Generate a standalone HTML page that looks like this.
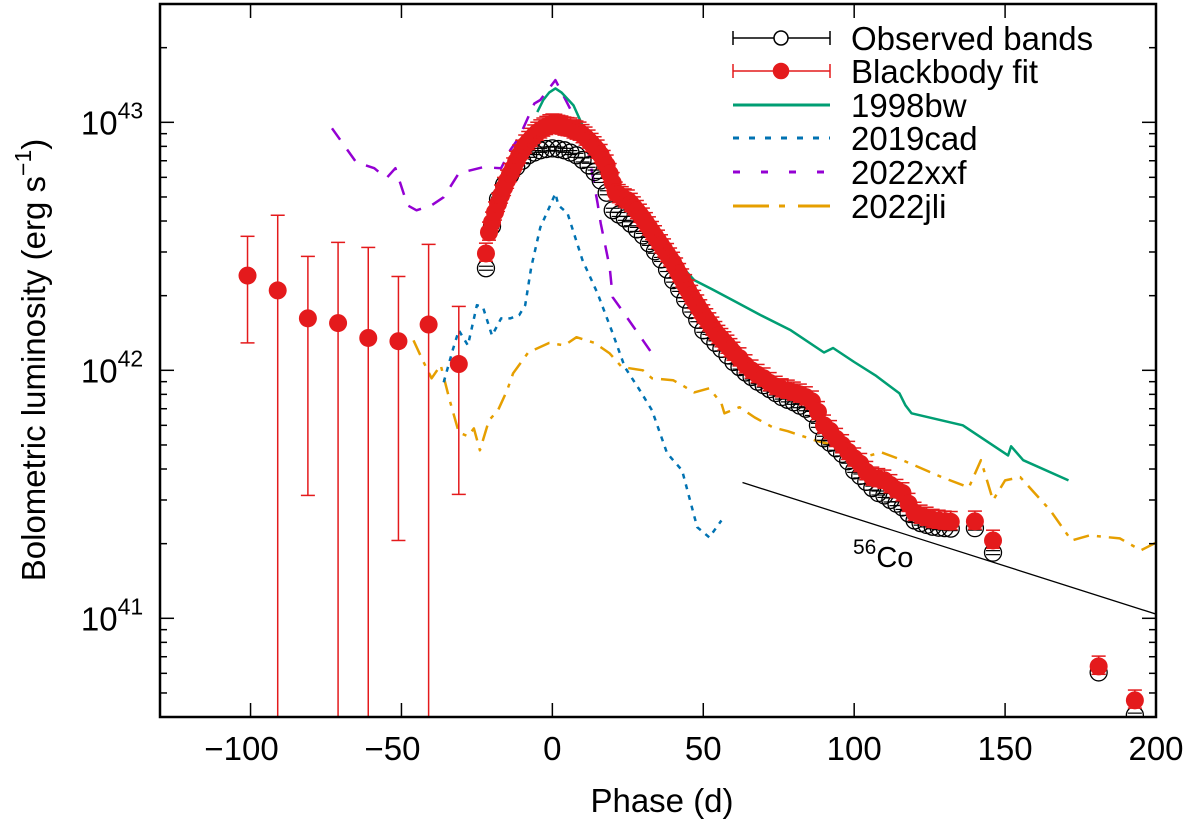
<!DOCTYPE html>
<html><head><meta charset="utf-8"><style>
body{margin:0;background:#fff;}
svg{display:block;font-family:"Liberation Sans",sans-serif;}
</style></head><body>
<svg id="chart" width="1200" height="826" viewBox="0 0 1200 826" xmlns="http://www.w3.org/2000/svg"></svg>
<script>
// ---- data (phase in days, luminosity in 1e42 erg/s) ----
const bbEarlyPhase=[-101,-91,-81,-71,-61,-51,-41,-31];
const bbEarlyL=[2.41,2.10,1.62,1.55,1.35,1.31,1.53,1.06];
const bbEarlyHi=[3.47,4.22,2.88,3.28,3.13,2.39,3.22,1.81];
const bbEarlyLo=[1.29,0.01,0.313,0.01,0.01,0.206,0.01,0.316];
const bbPhase=[-22,-21,-20,-19,-18,-17,-16,-15,-14,-13,-12,-11,-10,-9,-8,-7,-6,-5,-4,-3,-2,-1,0,1,2,3,4,5,6,7,8,9,10,11,12,13,14,15,16,17,18,19,20,21,22,23,24,25,26,27,28,29,30,31,32,33,34,35,36,37,38,39,40,41,42,43,44,45,46,47,48,49,50,51,52,53,54,55,56,57,58,59,60,62,64,66,68,70,72,74,76,78,80,82,84,86,88,90,92,94,96,98,100,102,104,106,108,110,112,114,116,118,120,122,124,126,128,130,132,140,146,181,193];
const bbL=[2.96,3.6,3.95,4.34,4.7,5.08,5.45,5.83,6.2,6.53,6.95,7.36,7.7,8.08,8.35,8.6,8.87,9.1,9.3,9.46,9.6,9.75,9.82,9.8,9.7,9.64,9.55,9.5,9.46,9.3,9.2,9.11,8.9,8.7,8.46,8.2,7.95,7.71,7.4,7.0,6.71,6.2,5.7,5.22,5.1,5.0,4.9,4.85,4.7,4.55,4.4,4.25,4.10,3.93,3.78,3.62,3.48,3.34,3.20,3.08,2.95,2.83,2.72,2.58,2.45,2.33,2.21,2.10,2.00,1.91,1.83,1.75,1.67,1.61,1.55,1.49,1.43,1.38,1.34,1.30,1.26,1.22,1.18,1.12,1.05,1.00,0.96,0.929,0.89,0.86,0.84,0.83,0.815,0.80,0.78,0.75,0.68,0.60,0.57,0.53,0.50,0.47,0.442,0.42,0.39,0.37,0.365,0.36,0.345,0.33,0.32,0.29,0.267,0.26,0.255,0.25,0.248,0.246,0.245,0.246,0.206,0.064,0.0467];
const obsPhase=[-22,-20,-18,-16,-14,-12,-10,-8,-6,-4,-2,0,2,4,6,8,10,12,14,16,18,20,22,24,26,28,30,32,34,36,38,40,42,44,46,48,50,52,54,56,58,60,62,64,66,68,70,72,74,76,78,80,82,84,86,88,90,92,94,96,98,100,102,104,106,108,110,112,114,116,118,120,122,124,126,128,130,132,140,146,181,193];
const obsL=[2.58,3.81,4.9,5.6,6.11,6.6,7.0,7.36,7.55,7.71,7.8,7.85,7.8,7.71,7.55,7.36,7.05,6.71,6.3,5.83,5.2,4.42,4.25,4.1,3.9,3.7,3.50,3.25,3.02,2.80,2.55,2.31,2.12,1.93,1.75,1.60,1.45,1.37,1.29,1.22,1.15,1.08,1.03,0.98,0.94,0.90,0.871,0.84,0.81,0.78,0.76,0.743,0.72,0.70,0.67,0.60,0.532,0.51,0.485,0.46,0.43,0.395,0.375,0.355,0.335,0.32,0.313,0.30,0.29,0.28,0.265,0.248,0.242,0.238,0.234,0.232,0.231,0.23,0.231,0.184,0.0605,0.0407];
const bwPhase=[-5,-3,-1,1,3,7,10,13,17,20,23,28,35,41,47,53,60,69,79,90,93,100,107,115,117,119,136,151,152,156,171];
const bwL=[11.0,12.3,13.2,13.7,13.2,11.7,9.72,8.46,6.71,5.73,4.94,4.03,3.34,2.78,2.31,2.12,1.91,1.67,1.45,1.18,1.23,1.08,0.955,0.807,0.722,0.671,0.600,0.454,0.494,0.434,0.360];
const cadPhase=[-36,-33,-31,-28,-25,-23,-20,-17,-14,-11,-9,-7,-4,-1,1,2,5,10,15,20,24,29,33,38,43,48,52,56];
const cadL=[0.895,1.21,1.45,1.26,1.83,1.80,1.38,1.62,1.62,1.67,1.83,2.60,3.77,4.54,5.17,4.63,4.30,2.78,2.04,1.41,1.03,0.830,0.690,0.463,0.395,0.233,0.212,0.248];
const xxfPhase=[-73,-65,-59,-55,-52,-48,-45,-40,-36,-31,-23,-17,-14,-11,-6,-4,1,5,9,12,15,16,19,20,23,27,33];
const xxfL=[9.46,6.90,6.53,5.95,6.53,4.63,4.42,4.63,4.99,6.23,6.59,6.53,7.71,8.71,11.9,12.3,14.8,11.9,9.55,7.50,4.71,3.92,2.60,1.97,1.75,1.49,1.17];
const jliPhase=[-46,-43,-40,-37,-34,-31,-28,-26,-24,-21,-18,-15,-13,-8,-1,4,8,14,19,23,30,33,40,43,47,52,56,57,62,67,73,78,87,93,103,109,116,129,138,142,146,150,155,165,172,178,188,195,200];
const jliL=[1.32,1.10,0.929,1.05,0.757,0.562,0.542,0.583,0.476,0.629,0.690,0.830,0.973,1.18,1.29,1.26,1.36,1.29,1.17,1.03,1.00,0.929,0.912,0.871,0.815,0.846,0.736,0.671,0.710,0.646,0.589,0.568,0.522,0.499,0.446,0.467,0.434,0.371,0.337,0.434,0.299,0.360,0.371,0.272,0.206,0.216,0.210,0.188,0.202];
const coPhase=[63,200];
const coL=[0.353,0.104];
const xTicks=[-100,-50,0,50,100,150,200];
const xTickLabels=["\u2212100","\u221250","0","50","100","150","200"];
const yDecades=[41,42,43];

const NS="http://www.w3.org/2000/svg";
const svg=document.getElementById('chart');
const L=160,R=1156,T=4,B=717;
const X0=-130,X1=200,Y0=Math.log10(0.04),Y1=Math.log10(30);
function sx(p){return L+(p-X0)/(X1-X0)*(R-L);}
function sy(v){return B-(Math.log10(v)-Y0)/(Y1-Y0)*(B-T);}
function mk(tag,attrs,parent){const e=document.createElementNS(NS,tag);for(const k in attrs)e.setAttribute(k,attrs[k]);(parent||svg).appendChild(e);return e;}

const clip=mk('clipPath',{id:'pc'});mk('rect',{x:L,y:T,width:R-L,height:B-T},clip);
const plot=mk('g',{'clip-path':'url(#pc)'});



function line(px,py,color,dash,name,w){
  const d=px.map((p,i)=>(i?'L':'M')+sx(p).toFixed(1)+' '+sy(py[i]).toFixed(1)).join(' ');
  const e=mk('path',{d:d,fill:'none',stroke:color,'stroke-width':w||2.5,'stroke-dasharray':dash||'none','stroke-linejoin':'round'},plot);
  
  
}
line(jliPhase,jliL,'#e69f00','16,8,4,8','series-2022jli');
line(xxfPhase,xxfL,'#9400d3','14,12','series-2022xxf');
line(cadPhase,cadL,'#0072b2','5,6','series-2019cad');
line(bwPhase,bwL,'#009e73','','series-1998bw');
line(coPhase,coL,'#000','','co56-decay-line',1.3);

const og=mk('g',{},plot);


obsPhase.forEach((p,i)=>{const x=sx(p),y=sy(obsL[i]);
  mk('line',{x1:x-7,x2:x+7,y1:y+2,y2:y+2,stroke:'#000','stroke-width':1.2},og);
  mk('line',{x1:x-7,x2:x+7,y1:y-2,y2:y-2,stroke:'#000','stroke-width':1.2},og);
  mk('circle',{cx:x,cy:y,r:8.5,fill:'none',stroke:'#000','stroke-width':1.3},og);});
const bg=mk('g',{},plot);


function bbPt(p,v,hi,lo){const x=sx(p),y=sy(v),yh=sy(hi),yl=Math.min(sy(lo),B+5);
  mk('line',{x1:x,x2:x,y1:yh,y2:yl,stroke:'#e41a1c','stroke-width':1.5},bg);
  mk('line',{x1:x-7,x2:x+7,y1:yh,y2:yh,stroke:'#e41a1c','stroke-width':1.5},bg);
  if(yl<B)mk('line',{x1:x-7,x2:x+7,y1:yl,y2:yl,stroke:'#e41a1c','stroke-width':1.5},bg);
  mk('circle',{cx:x,cy:y,r:9,fill:'#e41a1c'},bg);}
bbEarlyPhase.forEach((p,i)=>bbPt(p,bbEarlyL[i],bbEarlyHi[i],bbEarlyLo[i]));
bbPhase.forEach((p,i)=>bbPt(p,bbL[i],bbL[i]*1.1,bbL[i]*0.93));

const fr=mk('rect',{x:L,y:T,width:R-L,height:B-T,fill:'none',stroke:'#000','stroke-width':2.5});


const ax=mk('g',{stroke:'#000','stroke-width':1.5});


xTicks.forEach((t,i)=>{const x=sx(t);
  mk('line',{x1:x,x2:x,y1:B,y2:B-14},ax);mk('line',{x1:x,x2:x,y1:T,y2:T+14},ax);
  const tx=mk('text',{x:x-(t<0?9:0),y:760,'font-size':33,'text-anchor':'middle',fill:'#000',stroke:'none'});
  tx.textContent=xTickLabels[i];
  
  });
for(let d=40;d<=43;d++){for(let m=1;m<10;m++){const v=m*Math.pow(10,d-42);const y=sy(v);if(y<T||y>B)continue;
  const len=m===1?14:7;mk('line',{x1:L,x2:L+len,y1:y,y2:y},ax);mk('line',{x1:R,x2:R-len,y1:y,y2:y},ax);}}
yDecades.forEach(d=>{const y=sy(Math.pow(10,d-42));
  const tx=mk('text',{x:112,y:y+12,'font-size':33,'text-anchor':'middle',fill:'#000'});
  tx.innerHTML='10<tspan dy="-16" font-size="23">'+d+'</tspan>';
  
  });
const xt=mk('text',{x:662,y:812,'font-size':33,'text-anchor':'middle'});xt.textContent='Phase (d)';


const yt=mk('text',{x:0,y:0,'font-size':33,'text-anchor':'middle',transform:'translate(45,360) rotate(-90)'});
yt.innerHTML='Bolometric luminosity (erg s<tspan dy="-14" font-size="23">\u22121</tspan><tspan dy="14">)</tspan>';


const co=mk('text',{x:853,y:567,'font-size':29});co.innerHTML='<tspan dy="-13" font-size="21">56</tspan><tspan dy="13">Co</tspan>';



const lg=mk('g',{});


const legNames=['Observed bands','Blackbody fit','1998bw','2019cad','2022xxf','2022jli'];
const legY=[38,71,105,138,172,206];
legNames.forEach((n,i)=>{const y=legY[i];const g=mk('g',{},lg);
  
  
  const x1=733,x2=830,xm=781;
  if(i<2){const c=i?'#e41a1c':'#000';
    mk('line',{x1:x1,x2:x2,y1:y,y2:y,stroke:c,'stroke-width':1.5},g);
    mk('line',{x1:x1,x2:x1,y1:y-7,y2:y+7,stroke:c,'stroke-width':1.5},g);
    mk('line',{x1:x2,x2:x2,y1:y-7,y2:y+7,stroke:c,'stroke-width':1.5},g);
    mk('circle',{cx:xm,cy:y,r:i?7.5:7,fill:i?c:'#fff',stroke:c,'stroke-width':1.5},g);}
  else{const cols=['#009e73','#0072b2','#9400d3','#e69f00'];const ds=['none','6,10','7,21','36,10,6,13'];
    mk('line',{x1:x1,x2:x2,y1:y,y2:y,stroke:cols[i-2],'stroke-width':3,'stroke-dasharray':ds[i-2]},g);}
  const t=mk('text',{x:851,y:y+12,'font-size':33},g);t.textContent=n;});
</script>
</body></html>
